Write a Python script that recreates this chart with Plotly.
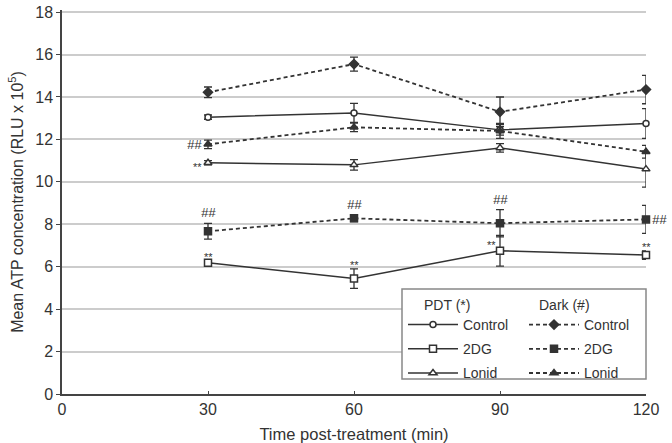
import plotly.graph_objects as go

time_min = [30, 60, 90, 120]

pdt_control = [13.05, 13.25, 12.45, 12.75]
pdt_control_err = [0.1, 0.45, 0.25, 0.7]
pdt_2dg = [6.19, 5.44, 6.75, 6.55]
pdt_2dg_err = [0.1, 0.46, 0.72, 0.2]
pdt_lonid = [10.9, 10.8, 11.6, 10.6]
pdt_lonid_err = [0.1, 0.25, 0.2, 0.85]

dark_control = [14.22, 15.55, 13.3, 14.35]
dark_control_err = [0.25, 0.33, 0.7, 0.67]
dark_2dg = [7.67, 8.28, 8.05, 8.23]
dark_2dg_err = [0.37, 0.15, 0.64, 0.66]
dark_lonid = [11.77, 12.57, 12.4, 11.42]
dark_lonid_err = [0.2, 0.2, 0.35, 0.3]

x_ticks = [0, 30, 60, 90, 120]
y_ticks = list(range(0, 19, 2))
legend_titles = ["PDT (*)", "Dark (#)"]

INK = "#333333"
FONT = "Liberation Sans, Arial, sans-serif"

W, H = 672, 443
ML, MR, MT, MB = 62, 26, 10, 49
Y_MAX = 18.1

fig = go.Figure()


def add_series(name, y, err, symbol, size, fill, dash, width, legend, group):
    fig.add_trace(go.Scatter(
        x=time_min, y=y, name=name, mode="lines+markers",
        line=dict(color=INK, width=width, dash=dash),
        marker=dict(symbol=symbol, size=size, color=fill,
                    line=dict(color=INK, width=1.5)),
        error_y=dict(type="data", array=err, visible=True, color=INK,
                     thickness=1.3, width=4),
        cliponaxis=False, legend=legend, legendgroup=group,
    ))


DASH = "4px,3px"
add_series("Control", pdt_control, pdt_control_err, "circle", 6, "white", "solid", 1.5, "legend", "pc")
add_series("2DG", pdt_2dg, pdt_2dg_err, "square", 7, "white", "solid", 1.5, "legend", "p2")
add_series("Lonid", pdt_lonid, pdt_lonid_err, "triangle-up", 7, "white", "solid", 1.5, "legend", "pl")
add_series("Control", dark_control, dark_control_err, "diamond", 7, INK, DASH, 1.8, "legend2", "dc")
add_series("2DG", dark_2dg, dark_2dg_err, "square", 7, INK, DASH, 1.8, "legend2", "d2")
add_series("Lonid", dark_lonid, dark_lonid_err, "triangle-up", 7, INK, DASH, 1.8, "legend2", "dl")

PW = W - ML - MR
PH = H - MT - MB


def px_x(page_x):
    return (page_x - ML) / PW


def px_y(page_y):
    return (H - MB - page_y) / PH


ann_font = dict(family=FONT, size=13, color=INK)
star_font = dict(family=FONT, size=11, color=INK)
anns = []
# ## above Dark 2DG (30, 60, 90), right of 120
for i in range(3):
    anns.append(dict(x=time_min[i], y=dark_2dg[i] + dark_2dg_err[i], text="<i>##</i>",
                     showarrow=False, yanchor="bottom", yshift=1, font=ann_font))
anns.append(dict(x=time_min[3], y=dark_2dg[3], text="<i>##</i>", showarrow=False,
                 xanchor="left", xshift=4, font=ann_font))
# ** above PDT 2DG (30, 60, 120), left of 90
for i in (0, 1, 3):
    anns.append(dict(x=time_min[i], y=pdt_2dg[i] + pdt_2dg_err[i], text="**",
                     showarrow=False, yanchor="bottom", yshift=-4, font=star_font))
anns.append(dict(x=time_min[2], y=pdt_2dg[2], text="**", showarrow=False,
                 xanchor="right", yanchor="bottom", xshift=-2, yshift=-2, font=star_font))
# left of Lonid at 30
anns.append(dict(x=time_min[0], y=dark_lonid[0], text="<i>##</i>", showarrow=False,
                 xanchor="right", xshift=-4, font=ann_font))
anns.append(dict(x=time_min[0], y=pdt_lonid[0], text="**", showarrow=False,
                 xanchor="right", xshift=-4, yshift=-4, font=star_font))
# legend column headings
for title, left in zip(legend_titles, (422, 537)):
    anns.append(dict(xref="paper", yref="paper", x=px_x(left), y=px_y(305),
                     xanchor="left", yanchor="middle", text=title, showarrow=False,
                     font=dict(family=FONT, size=14, color=INK)))

fig.update_layout(
    width=W, height=H,
    margin=dict(l=ML, r=MR, t=MT, b=MB, autoexpand=False),
    plot_bgcolor="white", paper_bgcolor="white",
    font=dict(family=FONT, size=15, color=INK),
    annotations=anns,
    xaxis=dict(range=[0, 120], tickvals=x_ticks, showgrid=False, zeroline=False,
               showline=True, linecolor="#444", linewidth=1.5, automargin=False,
               ticks="inside", ticklen=3, tickcolor="#444",
               title=dict(text="Time post-treatment (min)", font=dict(size=16.5)),
               tickfont=dict(size=16)),
    yaxis=dict(range=[0, Y_MAX], tickvals=y_ticks, showgrid=True, gridcolor="#cccccc",
               gridwidth=1.5, zeroline=False, showline=True, linecolor="#444",
               linewidth=1.5, ticks="outside", ticklen=4, tickcolor="#444",
               automargin=False, ticklabeloverflow="allow",
               title=dict(text="Mean ATP concentration (RLU x 10<sup>5</sup>)",
                          font=dict(size=16), standoff=8),
               tickfont=dict(size=16)),
    shapes=[dict(type="rect", xref="paper", yref="paper",
                 x0=px_x(402), x1=px_x(646), y0=px_y(379), y1=px_y(289),
                 fillcolor="white", line=dict(color="#888888", width=1.5),
                 layer="above")],
    legend=dict(x=px_x(403), y=px_y(309), xanchor="left", yanchor="top",
                bgcolor="rgba(0,0,0,0)", borderwidth=0, itemwidth=50,
                tracegroupgap=3, font=dict(size=14)),
    legend2=dict(x=px_x(524), y=px_y(309), xanchor="left", yanchor="top",
                 bgcolor="rgba(0,0,0,0)", borderwidth=0, itemwidth=50,
                 tracegroupgap=3, font=dict(size=14)),
)

fig.write_html("out.html", config={"displayModeBar": False},
               post_script="document.body.style.margin='0';document.body.style.overflow='hidden';")
